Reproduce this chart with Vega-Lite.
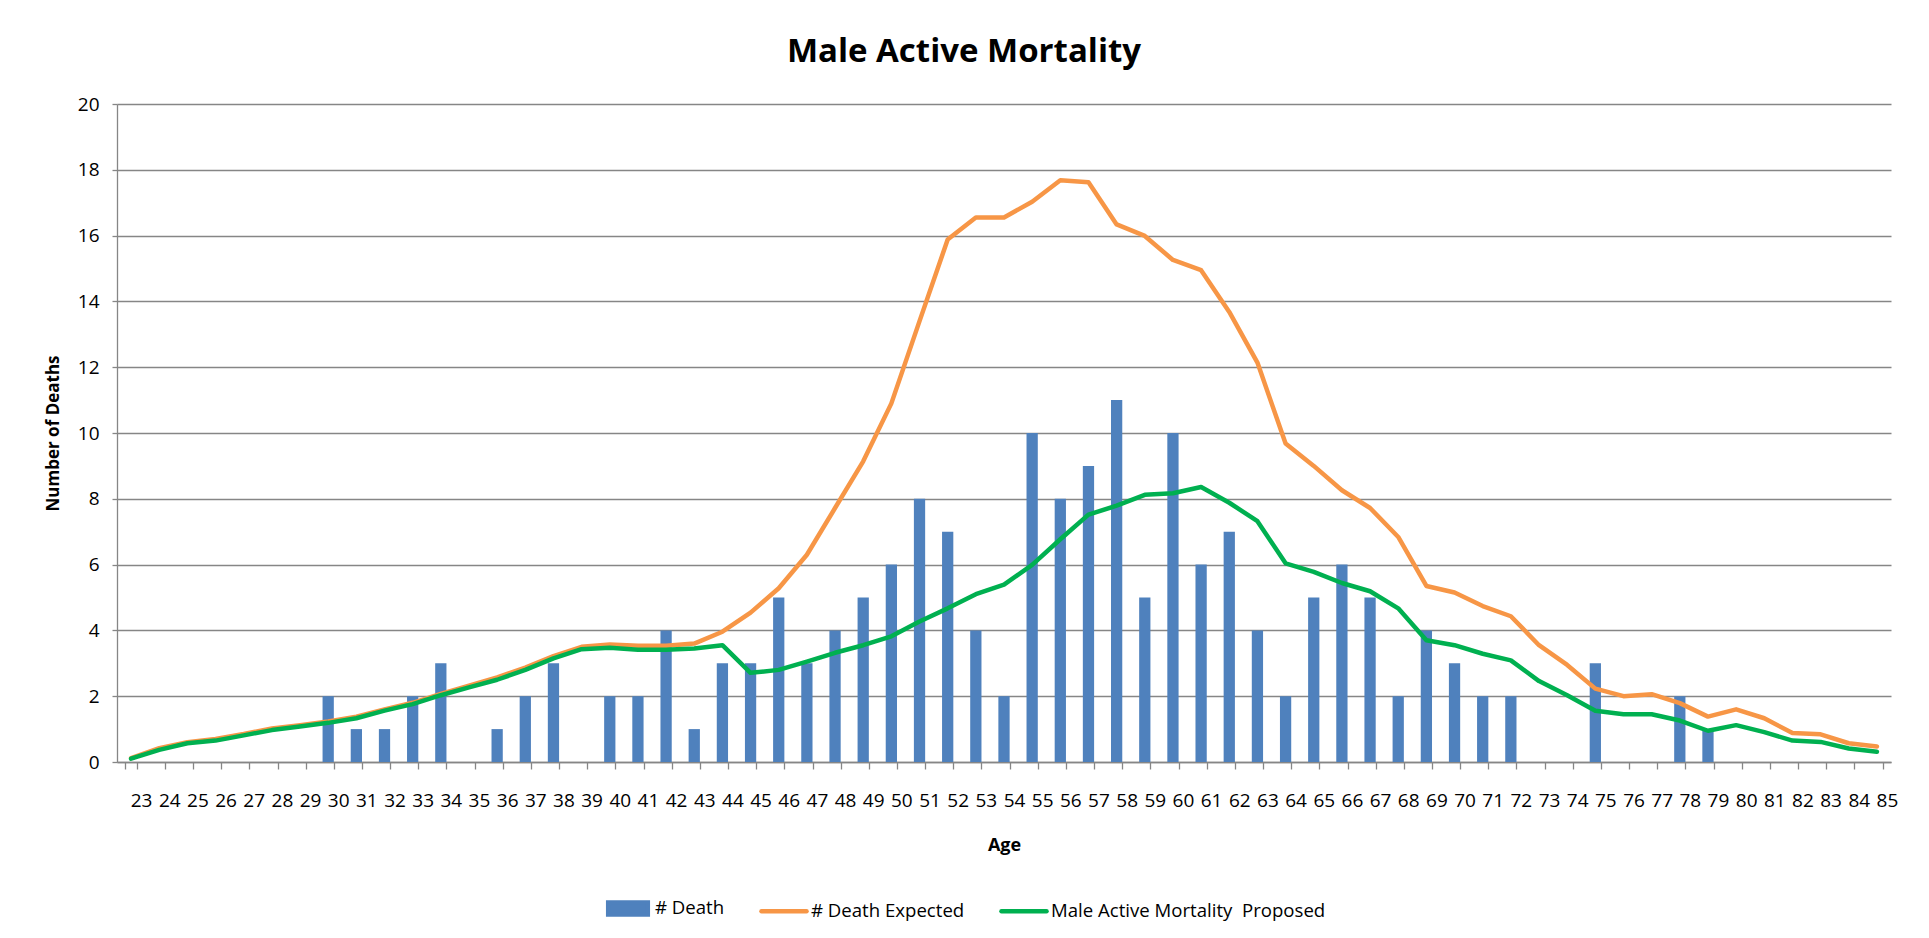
{
"$schema": "https://vega.github.io/schema/vega-lite/v6.json",
"autosize": {"type": "none"},
"width": 1774,
"height": 658,
"padding": {"left": 117, "top": 104, "right": 38, "bottom": 176},
"background": "white",
"config": {"font": "Open Sans", "view": {"stroke": null}},
"title": {"text": "Male Active Mortality", "fontSize": 33, "fontWeight": "bold", "font": "Open Sans", "color": "black", "anchor": "middle", "dx": -40, "offset": 0, "baseline": "alphabetic"},
"data": {"values": [
{"age":23,"death":0,"expected":0.12,"proposed":0.10},
{"age":24,"death":0,"expected":0.42,"proposed":0.37},
{"age":25,"death":0,"expected":0.60,"proposed":0.57},
{"age":26,"death":0,"expected":0.70,"proposed":0.65},
{"age":27,"death":0,"expected":0.85,"proposed":0.81},
{"age":28,"death":0,"expected":1.02,"proposed":0.97},
{"age":29,"death":0,"expected":1.12,"proposed":1.08},
{"age":30,"death":2,"expected":1.23,"proposed":1.19},
{"age":31,"death":1,"expected":1.38,"proposed":1.33},
{"age":32,"death":1,"expected":1.60,"proposed":1.56},
{"age":33,"death":2,"expected":1.80,"proposed":1.76},
{"age":34,"death":3,"expected":2.07,"proposed":2.03},
{"age":35,"death":0,"expected":2.32,"proposed":2.27},
{"age":36,"death":1,"expected":2.57,"proposed":2.50},
{"age":37,"death":2,"expected":2.87,"proposed":2.80},
{"age":38,"death":3,"expected":3.22,"proposed":3.15},
{"age":39,"death":0,"expected":3.50,"proposed":3.43},
{"age":40,"death":2,"expected":3.57,"proposed":3.47},
{"age":41,"death":2,"expected":3.53,"proposed":3.41},
{"age":42,"death":4,"expected":3.53,"proposed":3.41},
{"age":43,"death":1,"expected":3.60,"proposed":3.45},
{"age":44,"death":3,"expected":3.96,"proposed":3.55},
{"age":45,"death":3,"expected":4.54,"proposed":2.71},
{"age":46,"death":5,"expected":5.28,"proposed":2.80},
{"age":47,"death":3,"expected":6.30,"proposed":3.05},
{"age":48,"death":4,"expected":7.72,"proposed":3.32},
{"age":49,"death":5,"expected":9.14,"proposed":3.55},
{"age":50,"death":6,"expected":10.90,"proposed":3.82},
{"age":51,"death":8,"expected":13.40,"proposed":4.27},
{"age":52,"death":7,"expected":15.88,"proposed":4.67},
{"age":53,"death":4,"expected":16.55,"proposed":5.10},
{"age":54,"death":2,"expected":16.55,"proposed":5.39},
{"age":55,"death":10,"expected":17.03,"proposed":5.99},
{"age":56,"death":8,"expected":17.68,"proposed":6.77},
{"age":57,"death":9,"expected":17.62,"proposed":7.52},
{"age":58,"death":11,"expected":16.34,"proposed":7.79},
{"age":59,"death":5,"expected":15.99,"proposed":8.12},
{"age":60,"death":10,"expected":15.26,"proposed":8.17},
{"age":61,"death":6,"expected":14.95,"proposed":8.36},
{"age":62,"death":7,"expected":13.68,"proposed":7.88},
{"age":63,"death":4,"expected":12.14,"proposed":7.32},
{"age":64,"death":2,"expected":9.68,"proposed":6.04},
{"age":65,"death":5,"expected":9.00,"proposed":5.78},
{"age":66,"death":6,"expected":8.26,"proposed":5.44},
{"age":67,"death":5,"expected":7.72,"proposed":5.19},
{"age":68,"death":2,"expected":6.84,"proposed":4.67},
{"age":69,"death":4,"expected":5.35,"proposed":3.70},
{"age":70,"death":3,"expected":5.15,"proposed":3.55},
{"age":71,"death":2,"expected":4.74,"proposed":3.29},
{"age":72,"death":2,"expected":4.43,"proposed":3.09},
{"age":73,"death":0,"expected":3.55,"proposed":2.46},
{"age":74,"death":0,"expected":2.95,"proposed":2.03},
{"age":75,"death":3,"expected":2.23,"proposed":1.56},
{"age":76,"death":0,"expected":2.00,"proposed":1.45},
{"age":77,"death":0,"expected":2.06,"proposed":1.45},
{"age":78,"death":2,"expected":1.79,"proposed":1.26},
{"age":79,"death":1,"expected":1.38,"proposed":0.95},
{"age":80,"death":0,"expected":1.60,"proposed":1.12},
{"age":81,"death":0,"expected":1.33,"proposed":0.91},
{"age":82,"death":0,"expected":0.88,"proposed":0.65},
{"age":83,"death":0,"expected":0.84,"proposed":0.61},
{"age":84,"death":0,"expected":0.57,"proposed":0.41},
{"age":85,"death":0,"expected":0.47,"proposed":0.31}
]},
"transform": [{"fold": ["death", "expected", "proposed"], "as": ["series", "value"]}],
"encoding": {
  "x": {"field": "age", "type": "ordinal",
    "scale": {"paddingInner": 0.6, "paddingOuter": 0.3},
    "axis": {"title": "Age", "titleFontSize": 18, "titleFontWeight": "bold", "titleColor": "black", "titleY": 83, "titleBaseline": "middle",
      "labelFontSize": 19, "labelColor": "black", "labelAngle": 0, "labelPadding": 22, "labelOffset": 10, "tickSize": 7, "tickColor": "#868686", "tickWidth": 1.3, "tickBand": "extent",
      "domainColor": "#868686", "domainWidth": 1.3, "grid": false}},
  "y": {"field": "value", "type": "quantitative",
    "scale": {"domain": [0, 20], "nice": false},
    "axis": {"title": "Number of Deaths", "values": [0,2,4,6,8,10,12,14,16,18,20], "titleFontSize": 17, "titleFontWeight": "bold", "titleColor": "black", "titleX": -64, "titleBaseline": "middle",
      "labelFontSize": 19, "labelColor": "black", "labelPadding": 13, "tickSize": 5, "tickColor": "#868686", "tickWidth": 1.3,
      "domainColor": "#868686", "domainWidth": 1.3, "gridColor": "#868686", "gridWidth": 1.3, "gridOpacity": 1}},
  "color": {"field": "series", "type": "nominal",
    "scale": {"domain": ["death", "expected", "proposed"], "range": ["#4F81BD", "#F79646", "#00B050"]},
    "legend": {"orient": "none", "legendX": 486, "legendY": 779, "direction": "horizontal", "title": null,
      "labelFontSize": 18.6, "labelColor": "black", "labelOffset": 2, "labelLimit": 500, "columnPadding": 27, "symbolSize": 2025,
      "labelExpr": "datum.label === 'death' ? '# Death' : datum.label === 'expected' ? '# Death Expected' : 'Male Active Mortality\u00a0 Proposed'",
      "encode": {"symbols": {"update": {
        "shape": {"signal": "datum.value === 'death' ? 'M-0.88,-0.27H0.88V0.27H-0.88Z' : 'stroke'"},
        "fill": {"signal": "datum.value === 'death' ? '#4F81BD' : 'transparent'"},
        "stroke": {"signal": "datum.value === 'death' ? 'transparent' : (datum.value === 'expected' ? '#F79646' : '#00B050')"},
        "strokeWidth": {"value": 4.5},
        "strokeCap": {"value": "round"},
        "opacity": {"value": 1}}}}}}
},
"layer": [
  {"transform": [{"filter": "datum.series === 'death'"}], "mark": {"type": "bar"}},
  {"transform": [{"filter": "datum.series !== 'death'"}], "mark": {"type": "line", "strokeWidth": 4.5, "strokeJoin": "round", "strokeCap": "round"}}
]
}
